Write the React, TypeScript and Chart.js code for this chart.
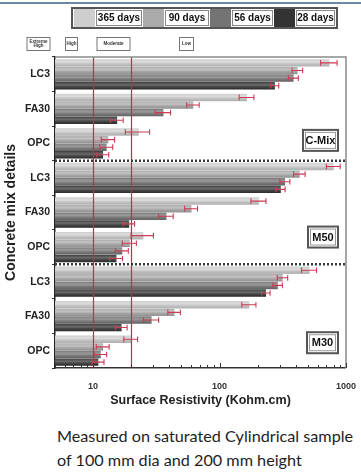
import React, { useEffect, useRef } from 'react';
import { Chart, registerables } from 'chart.js';

Chart.register(...registerables);

// ---------- data ----------
const categories = ['LC3', 'FA30', 'OPC', 'LC3', 'FA30', 'OPC', 'LC3', 'FA30', 'OPC'];
const panelNames = ['C-Mix', 'M50', 'M30'];
const seriesNames = ['365 days', '90 days', '56 days', '28 days'];
const days365 = [740, 165, 23, 800, 205, 25, 515, 172, 20];
const days90 = [414, 62, 13.2, 430, 60, 19.5, 316, 44, 12];
const days56 = [385, 36, 12.8, 330, 38, 17, 289, 29, 11.5];
const days28 = [274, 15.5, 12, 305, 19.3, 15.3, 233, 16.8, 11];
const err365 = [110, 22, 5, 100, 28, 5, 70, 22, 2.5];
const err90 = [40, 7, 1.6, 45, 7, 2.5, 30, 5, 1.4];
const err56 = [35, 5, 1.5, 30, 5, 2, 25, 4, 1.3];
const err28 = [20, 1.8, 1.3, 25, 2, 1.8, 18, 1.8, 1.2];
const thresholds = [10, 20];
const riskLabels = [['Extreme', 'High'], ['High'], ['Moderate'], ['Low']];
const xTickValues = [5, 6, 7, 8, 9, 10, 20, 30, 40, 50, 60, 70, 80, 90, 100, 200, 300, 400, 500, 600, 700, 800, 900, 1000];
const xLabeledTicks = [10, 100, 1000];
const xTitle = 'Surface Resistivity (Kohm.cm)';
const yTitle = 'Concrete mix details';
const captionLines = ['Measured on saturated Cylindrical sample', 'of 100 mm dia and 200 mm height'];

// ---------- styles / layout ----------
const seriesColors = ['#cecece', '#aaaaaa', '#747474', '#333333'];
const errorColor = '#cc3a55';
const FONT = '"Liberation Sans", Arial, sans-serif';
const riskBoxes = [
  { cx: 38, w: 23 },
  { cx: 71, w: 12 },
  { cx: 113, w: 33 },
  { cx: 186, w: 14 },
];
const panelBoxDy = [-3, -10, -8];
const panelBoxW = [35, 30, 31];
const legendLabelW = [48, 46, 43, 41];

const allData = [days365, days90, days56, days28];
const allErr = [err365, err90, err56, err28];

const overlayPlugin = {
  id: 'overlay',
  afterDatasetsDraw(chart: any) {
    const { ctx, chartArea } = chart;
    const xs = chart.scales.x;
    const ys = chart.scales.y;
    ctx.save();
    // glossy shading on bars
    chart.data.datasets.forEach((_ds: any, di: number) => {
      const meta = chart.getDatasetMeta(di);
      meta.data.forEach((bar: any) => {
        const top = bar.y - bar.height / 2;
        const g = ctx.createLinearGradient(0, top, 0, top + bar.height);
        g.addColorStop(0, 'rgba(255,255,255,0.05)');
        g.addColorStop(0.4, 'rgba(255,255,255,0.28)');
        g.addColorStop(1, 'rgba(0,0,0,0.12)');
        ctx.fillStyle = g;
        ctx.fillRect(bar.base, top, bar.x - bar.base, bar.height);
      });
    });
    // threshold lines
    ctx.strokeStyle = '#c82c48';
    ctx.lineWidth = 1.2;
    thresholds.forEach((t) => {
      const x = Math.round(xs.getPixelForValue(t)) + 0.5;
      ctx.beginPath();
      ctx.moveTo(x, chartArea.top);
      ctx.lineTo(x, chartArea.bottom);
      ctx.stroke();
    });
    // error bars
    ctx.strokeStyle = errorColor;
    ctx.lineWidth = 1.1;
    chart.data.datasets.forEach((ds: any, di: number) => {
      const meta = chart.getDatasetMeta(di);
      meta.data.forEach((bar: any, i: number) => {
        const v = ds.data[i];
        const e = allErr[di][i];
        const x1 = xs.getPixelForValue(v - e);
        const x2 = xs.getPixelForValue(v + e);
        const y = bar.y;
        const h = bar.height * 0.38;
        ctx.beginPath();
        ctx.moveTo(x1, y);
        ctx.lineTo(x2, y);
        ctx.moveTo(x1, y - h);
        ctx.lineTo(x1, y + h);
        ctx.moveTo(x2, y - h);
        ctx.lineTo(x2, y + h);
        ctx.stroke();
      });
    });
    // panel separators
    ctx.strokeStyle = '#3a3a3a';
    ctx.lineWidth = 2.5;
    ctx.setLineDash([2, 2]);
    [3, 6].forEach((k) => {
      const y = (ys.getPixelForValue(k - 1) + ys.getPixelForValue(k)) / 2;
      ctx.beginPath();
      ctx.moveTo(chartArea.left, y);
      ctx.lineTo(chartArea.right, y);
      ctx.stroke();
    });
    ctx.setLineDash([]);
    // plot frame
    ctx.strokeStyle = '#8a8a8a';
    ctx.lineWidth = 1.5;
    ctx.beginPath();
    ctx.moveTo(chartArea.left, chartArea.top);
    ctx.lineTo(chartArea.right, chartArea.top);
    ctx.lineTo(chartArea.right, chartArea.bottom);
    ctx.stroke();
    // inward x ticks
    ctx.strokeStyle = '#333';
    ctx.lineWidth = 1;
    xTickValues.forEach((v) => {
      const x = Math.round(xs.getPixelForValue(v)) + 0.5;
      const len = xLabeledTicks.includes(v) ? 5 : 3;
      ctx.beginPath();
      ctx.moveTo(x, chartArea.bottom);
      ctx.lineTo(x, chartArea.bottom - len);
      ctx.stroke();
    });
    // panel name boxes
    panelNames.forEach((name, p) => {
      const yc = ys.getPixelForValue(p * 3 + 2) + panelBoxDy[p];
      const w = panelBoxW[p];
      const h = 21;
      const x0 = chartArea.right - 8 - w;
      const y0 = yc - h / 2;
      ctx.fillStyle = '#fff';
      ctx.fillRect(x0, y0, w, h);
      ctx.strokeStyle = '#555';
      ctx.lineWidth = 2;
      ctx.strokeRect(x0, y0, w, h);
      ctx.strokeStyle = '#999';
      ctx.lineWidth = 1;
      ctx.strokeRect(x0 + 2.5, y0 + 2.5, w - 5, h - 5);
      ctx.fillStyle = '#111';
      ctx.font = `bold 11px ${FONT}`;
      ctx.textAlign = 'center';
      ctx.textBaseline = 'middle';
      ctx.fillText(name, x0 + w / 2, yc + 0.5);
    });
    ctx.restore();
  },
  afterDraw(chart: any) {
    const { ctx } = chart;
    ctx.save();
    // legend
    const lx = 72, ly = 8, lh = 20;
    let x = lx + 2;
    const sw = 21;
    seriesNames.forEach((name, i) => {
      ctx.fillStyle = seriesColors[i];
      ctx.fillRect(x, ly + 1, sw, lh - 2);
      x += sw;
      const w = legendLabelW[i];
      ctx.fillStyle = '#fff';
      ctx.fillRect(x + 1, ly + 2, w - 2, lh - 4);
      ctx.strokeStyle = '#888';
      ctx.lineWidth = 1;
      ctx.strokeRect(x + 1.5, ly + 2.5, w - 3, lh - 5);
      ctx.fillStyle = '#111';
      ctx.font = `bold 10px ${FONT}`;
      ctx.textAlign = 'center';
      ctx.textBaseline = 'middle';
      ctx.fillText(name, x + w / 2, ly + lh / 2 + 0.5);
      x += w;
    });
    ctx.strokeStyle = '#555';
    ctx.lineWidth = 2;
    ctx.strokeRect(lx, ly, x - lx + 1, lh);
    // risk labels
    riskLabels.forEach((lines, i) => {
      const b = riskBoxes[i];
      const y0 = 37, h = 13;
      const x0 = b.cx - b.w / 2;
      ctx.fillStyle = '#fff';
      ctx.fillRect(x0, y0, b.w, h);
      ctx.strokeStyle = '#777';
      ctx.lineWidth = 1;
      ctx.strokeRect(x0 + 0.5, y0 + 0.5, b.w, h);
      ctx.fillStyle = '#333';
      ctx.font = `bold 4.5px ${FONT}`;
      ctx.textAlign = 'center';
      ctx.textBaseline = 'middle';
      lines.forEach((t, k) => {
        const yy = y0 + h / 2 + (k - (lines.length - 1) / 2) * 4.5;
        ctx.fillText(t, b.cx + 0.5, yy + 0.5);
      });
    });
    ctx.restore();
  },
};

export default function App() {
  const ref = useRef<HTMLCanvasElement | null>(null);
  useEffect(() => {
    if (!ref.current) return;
    const chart = new Chart(ref.current, {
      type: 'bar',
      data: {
        labels: categories,
        datasets: seriesNames.map((name, i) => ({
          label: name,
          data: allData[i],
          backgroundColor: seriesColors[i],
          borderWidth: 0,
          categoryPercentage: 0.88,
          barPercentage: 0.98,
        })),
      },
      options: {
        indexAxis: 'y',
        responsive: false,
        animation: false,
        layout: { padding: { top: 57, right: 8, left: 0, bottom: 0 } },
        plugins: {
          legend: { display: false },
          tooltip: { enabled: false },
        },
        scales: {
          x: {
            type: 'logarithmic',
            min: 5,
            max: 1000,
            afterFit(scale: any) {
              scale.height = 42;
            },
            afterBuildTicks(scale: any) {
              scale.ticks = xTickValues.map((v) => ({ value: v, major: xLabeledTicks.includes(v) }));
            },
            grid: { display: false },
            border: { display: true, color: '#333', width: 1.5 },
            ticks: {
              autoSkip: false,
              maxRotation: 0,
              padding: 5,
              color: '#333',
              font: { family: FONT, size: 9, weight: 'bold' },
              callback: (v: any) => (xLabeledTicks.includes(Number(v)) ? String(v) : ''),
            },
            title: {
              display: true,
              text: xTitle,
              color: '#222',
              font: { family: FONT, size: 12.5, weight: 'bold' },
              padding: { top: 0, bottom: 2 },
            },
          },
          y: {
            type: 'category',
            offset: true,
            afterFit(scale: any) {
              scale.width = 55;
            },
            grid: { drawOnChartArea: false, tickLength: 3, color: '#333', offset: true },
            border: { display: true, color: '#222', width: 1.5 },
            ticks: {
              padding: 2,
              color: '#222',
              font: { family: FONT, size: 10.5, weight: 'bold' },
            },
            title: {
              display: true,
              text: yTitle,
              color: '#222',
              font: { family: FONT, size: 14, weight: 'bold' },
              padding: { top: 3, bottom: 0 },
            },
          },
        },
      },
      plugins: [overlayPlugin],
    } as any);
    return () => chart.destroy();
  }, []);

  return (
    <div style={{ position: 'absolute', left: 0, top: 0, width: 361, height: 472, background: '#fff', overflow: 'hidden' }}>
      <div style={{ position: 'absolute', left: 0, top: 2, width: 361, height: 2, background: '#6d87a8' }} />
      <canvas ref={ref} width={361} height={410} style={{ position: 'absolute', left: 0, top: 0, width: 361, height: 410 }} />
      <div
        style={{
          position: 'absolute',
          left: 57,
          top: 424,
          fontFamily: 'Lato, "Open Sans", sans-serif',
          fontSize: 16.2,
          lineHeight: '24px',
          color: '#1e1e1e',
          whiteSpace: 'nowrap',
        }}
      >
        {captionLines.map((l, i) => (
          <div key={i}>{l}</div>
        ))}
      </div>
    </div>
  );
}
